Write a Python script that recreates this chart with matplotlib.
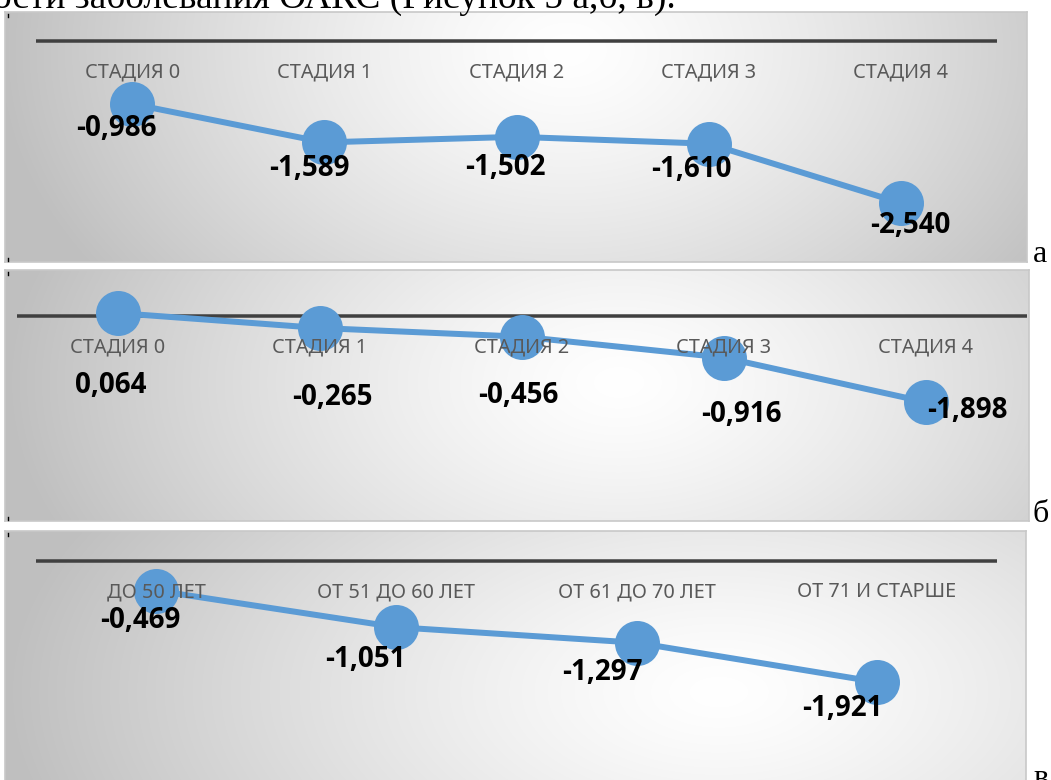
import numpy as np
import matplotlib
matplotlib.use("Agg")
import matplotlib.pyplot as plt
from matplotlib.lines import Line2D

# ---- data ----
stages = ["СТАДИЯ 0", "СТАДИЯ 1", "СТАДИЯ 2", "СТАДИЯ 3", "СТАДИЯ 4"]
stage_vals_a = [-0.986, -1.589, -1.502, -1.610, -2.540]
stage_vals_b = [0.064, -0.265, -0.456, -0.916, -1.898]
age_groups = ["ДО 50 ЛЕТ", "ОТ 51 ДО 60 ЛЕТ", "ОТ 61 ДО 70 ЛЕТ", "ОТ 71 И СТАРШЕ"]
age_vals = [-0.469, -1.051, -1.297, -1.921]
panel_letters = ["а", "б", "в"]
caption = "ости заболевания ОАКС (Рисунок 5 а,б, в)."

# ---- layout (pixels) ----
W, H = 1051, 780
PT = 72 / 100  # points per pixel at dpi=100
BLUE = "#5B9BD5"

panels = [
    # box, plot x-range, y of zero line, px per unit, gradient centre/radii, label offsets
    dict(box=(5, 12, 1027, 262), px=(36, 997), zero=41, scale=63.8,
         grad=(0.55, 0.15, 0.56, 1.6),
         offs=[(-16, 25), (-15, 26), (-11, 31), (-17, 26), (9, 22)],
         cats=stages, vals=stage_vals_a, letter_y=262),
    dict(box=(5, 270, 1029, 521), px=(17, 1027), zero=316, scale=45.4,
         grad=(0.6, 0.45, 0.6, 1.5),
         offs=[(-7, 72), (12, 69), (-4, 59), (17, 57), (41, 8)],
         cats=stages, vals=stage_vals_b, letter_y=522),
    dict(box=(5, 531, 1026, 800), px=(36, 997), zero=561, scale=63.0,
         grad=(0.7, 0.6, 0.7, 1.4),
         offs=[(-16, 30), (-31, 32), (-34, 30), (-35, 26)],
         cats=age_groups, vals=age_vals, letter_y=786),
]


def rect(x0, y0, x1, y1):
    return [x0 / W, 1 - y1 / H, (x1 - x0) / W, (y1 - y0) / H]


def gradient(cx, cy, rx, ry, n=300):
    u = np.linspace(0, 1, n)
    v = np.linspace(0, 1, n // 3)
    U, V = np.meshgrid(u, v)
    t = np.clip(np.sqrt(((U - cx) / rx) ** 2 + ((V - cy) / ry) ** 2), 0, 1)
    g = 1 - 0.25 * t ** 1.3
    return np.dstack([g, g, g])


fig = plt.figure(figsize=(W / 100, H / 100), dpi=100)
fig.patch.set_facecolor("white")

for p in panels:
    x0, y0, x1, y1 = p["box"]
    # panel background with radial shading
    bg = fig.add_axes(rect(x0, y0, x1, y1))
    bg.imshow(gradient(*p["grad"]), extent=(0, 1, 0, 1), aspect="auto",
              interpolation="bilinear")
    bg.set_xticks([])
    bg.set_yticks([])
    for s in bg.spines.values():
        s.set_color("#C8C8C8")
        s.set_linewidth(1.2)

    # plot area
    ax = fig.add_axes(rect(p["px"][0], y0, p["px"][1], y1))
    ax.patch.set_alpha(0)
    ax.set_axis_off()
    n = len(p["cats"])
    ax.set_xlim(-0.5, n - 0.5)
    ax.set_ylim(-(y1 - p["zero"]) / p["scale"], (p["zero"] - y0) / p["scale"])
    ax.axhline(0, color="#404040", lw=3.5 * PT, zorder=1)

    xs = np.arange(n)
    ax.plot(xs, p["vals"], color=BLUE, lw=6 * PT, marker="o",
            markersize=45 * PT, markerfacecolor=BLUE, markeredgewidth=0,
            solid_capstyle="round", zorder=2)

    for i, cat in enumerate(p["cats"]):
        ax.annotate(cat, (i, 0), xytext=(0, -31 * PT), textcoords="offset points",
                    ha="center", va="center", fontsize=14.3, color="#595959",
                    family="Noto Sans", zorder=5, annotation_clip=False)

    for i, (val, (dx, dy)) in enumerate(zip(p["vals"], p["offs"])):
        txt = f"{val:.3f}".replace(".", ",")
        ax.annotate(txt, (i, val), xytext=(dx * PT, -dy * PT),
                    textcoords="offset points", ha="center", va="center",
                    fontsize=20, fontweight="bold", color="black",
                    family=["Open Sans", "Liberation Sans"], zorder=6,
                    annotation_clip=False)

    # small anchor marks at the panel corners
    for yy in (y0 + 2, y1 - 4):
        if yy < H:
            fig.add_artist(Line2D([8 / W, 8 / W], [1 - yy / H, 1 - (yy + 3) / H],
                                  color="black", lw=1))

for p, letter in zip(panels, panel_letters):
    fig.text(1033 / W, 1 - p["letter_y"] / H, letter, family="Liberation Serif",
             fontsize=23, va="baseline", ha="left")

fig.text(676 / W, 1 - 8 / H, caption, family="Liberation Serif", fontsize=27,
         va="baseline", ha="right")

fig.savefig("out.png", dpi=100)
